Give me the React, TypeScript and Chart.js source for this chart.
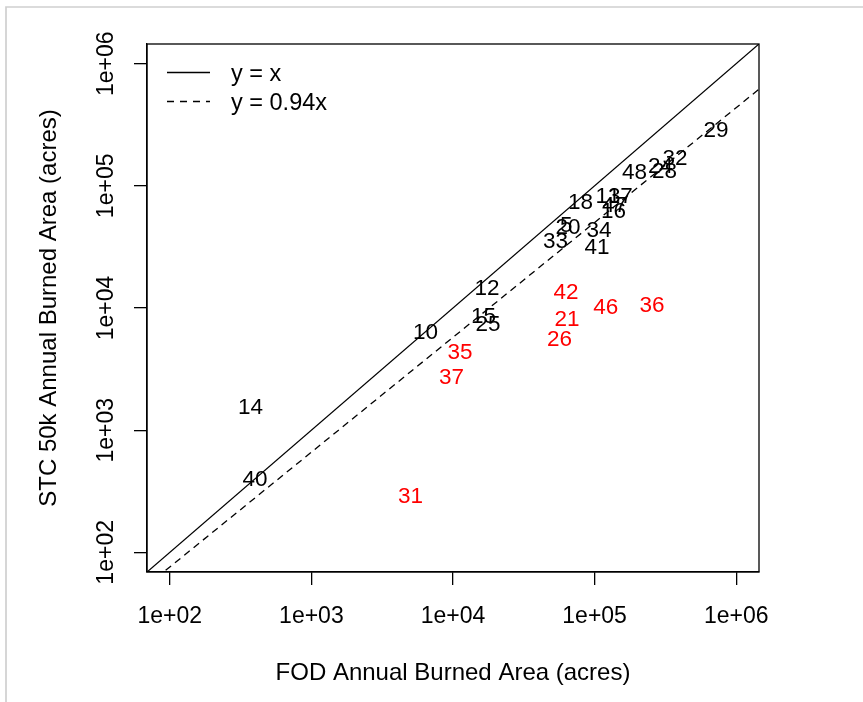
import React, { useEffect, useRef } from "react";
import { Chart, registerables } from "chart.js";

Chart.register(...registerables);

// ---- data (acres) ----
const blackLabels = ["29", "32", "48", "24", "28", "18", "13", "17", "47", "16", "33", "20", "5", "34", "41", "12", "15", "25", "10", "14", "40"];
const blackFod = [7.2e5, 3.7e5, 1.91e5, 2.92e5, 3.12e5, 7.94e4, 1.245e5, 1.52e5, 1.38e5, 1.36e5, 5.3e4, 6.49e4, 6.3e4, 1.074e5, 1.04e5, 1.74e4, 1.64e4, 1.77e4, 6.4e3, 372, 400];
const blackStc = [2.92e5, 1.73e5, 1.32e5, 1.48e5, 1.34e5, 7.45e4, 8.41e4, 8.34e4, 7.05e4, 6.3e4, 3.61e4, 4.65e4, 4.85e4, 4.44e4, 3.22e4, 1.486e4, 8.77e3, 7.54e3, 6.43e3, 1589, 405];

const redLabels = ["31", "35", "37", "42", "21", "26", "46", "36"];
const redFod = [5.01e3, 1.12e4, 9.75e3, 6.28e4, 6.38e4, 5.65e4, 1.2e5, 2.54e5];
const redStc = [297, 4.41e3, 2.8e3, 1.39e4, 8.28e3, 5.68e3, 1.03e4, 1.07e4];

const tickValues = [1e2, 1e3, 1e4, 1e5, 1e6];
const tickLabels = ["1e+02", "1e+03", "1e+04", "1e+05", "1e+06"];

const axisMin = Math.pow(10, 1.839);
const axisMax = Math.pow(10, 6.161);
const fitExponent = 0.94;

const legendLabels = ["y = x", "y = 0.94x"];
const xTitle = "FOD Annual Burned Area (acres)";
const yTitle = "STC 50k Annual Burned Area (acres)";

const FAMILY = "'Liberation Sans', Arial, Helvetica, sans-serif";
const LABEL_FONT = "22.5px " + FAMILY;
const TICK_FONT = "23px " + FAMILY;
const TITLE_FONT = "24px " + FAMILY;
const LEGEND_FONT = "23.5px " + FAMILY;
const CAP = 8; // half cap-height for visual centering

const rPlotPlugin = {
  id: "rplot",
  beforeDraw(chart: any) {
    const ctx = chart.ctx;
    ctx.save();
    ctx.fillStyle = "#ffffff";
    ctx.fillRect(0, 0, chart.width, chart.height);
    ctx.strokeStyle = "#cfcfcf";
    ctx.lineWidth = 1.7;
    ctx.beginPath();
    ctx.moveTo(6, chart.height);
    ctx.lineTo(6, 7);
    ctx.lineTo(chart.width, 7);
    ctx.stroke();
    ctx.restore();
  },
  afterDraw(chart: any) {
    const ctx = chart.ctx;
    const area = chart.chartArea;
    const xs = chart.scales.x;
    const ys = chart.scales.y;
    ctx.save();
    // box
    ctx.strokeStyle = "#000";
    ctx.lineWidth = 1.3;
    ctx.strokeRect(area.left, area.top, area.right - area.left, area.bottom - area.top);

    ctx.fillStyle = "#000";
    ctx.textAlign = "center";
    ctx.textBaseline = "alphabetic";
    ctx.font = TICK_FONT;
    // x tick labels
    tickValues.forEach((v, i) => {
      const px = xs.getPixelForValue(v);
      ctx.fillText(tickLabels[i], px, 623);
    });
    // y tick labels (rotated)
    tickValues.forEach((v, i) => {
      const py = ys.getPixelForValue(v);
      ctx.save();
      ctx.translate(113, py);
      ctx.rotate(-Math.PI / 2);
      ctx.fillText(tickLabels[i], 0, 0);
      ctx.restore();
    });
    // titles
    ctx.font = TITLE_FONT;
    ctx.fillText(xTitle, (area.left + area.right) / 2, 680);
    ctx.save();
    ctx.translate(56, (area.top + area.bottom) / 2);
    ctx.rotate(-Math.PI / 2);
    ctx.fillText(yTitle, 0, 0);
    ctx.restore();

    // legend
    ctx.font = LEGEND_FONT;
    ctx.lineWidth = 1.3;
    ctx.strokeStyle = "#000";
    const rows = [72.5, 101.5];
    rows.forEach((ry, i) => {
      ctx.setLineDash(i === 0 ? [] : [7, 6]);
      ctx.beginPath();
      ctx.moveTo(167, ry);
      ctx.lineTo(210, ry);
      ctx.stroke();
      ctx.setLineDash([]);
      ctx.textAlign = "left";
      ctx.fillText(legendLabels[i], 231, ry + CAP);
    });
    ctx.restore();
  },
  afterDatasetsDraw(chart: any) {
    const ctx = chart.ctx;
    ctx.save();
    ctx.font = LABEL_FONT;
    ctx.textAlign = "center";
    ctx.textBaseline = "alphabetic";
    chart.data.datasets.forEach((ds: any, di: number) => {
      if (!ds.pointLabels) return;
      const meta = chart.getDatasetMeta(di);
      ctx.fillStyle = ds.labelColor;
      meta.data.forEach((el: any, i: number) => {
        ctx.fillText(ds.pointLabels[i], el.x, el.y + CAP);
      });
    });
    ctx.restore();
  },
};

const logAxis = (axisId: string) => ({
  type: "logarithmic" as const,
  min: axisMin,
  max: axisMax,
  afterBuildTicks: (scale: any) => {
    scale.ticks = tickValues.map((v) => ({ value: v }));
  },
  afterFit: (scale: any) => {
    if (axisId === "y") scale.width = 147;
    else scale.height = 130;
  },
  ticks: { display: false, autoSkip: false },
  grid: {
    drawOnChartArea: false,
    drawTicks: true,
    tickLength: 13,
    color: "#000",
    lineWidth: 1.3,
  },
  border: { display: true, color: "#000", width: 1.3 },
  title: { display: false },
});

export default function App() {
  const canvasRef = useRef<HTMLCanvasElement | null>(null);

  useEffect(() => {
    if (!canvasRef.current) return;
    const chart = new Chart(canvasRef.current, {
      type: "scatter",
      data: {
        datasets: [
          {
            label: "y = x",
            type: "line",
            data: [
              { x: axisMin, y: axisMin },
              { x: axisMax, y: axisMax },
            ],
            borderColor: "#000",
            borderWidth: 1.3,
            pointRadius: 0,
            fill: false,
            clip: 0,
          } as any,
          {
            label: "y = 0.94x",
            type: "line",
            data: [
              { x: axisMin, y: Math.pow(axisMin, fitExponent) },
              { x: axisMax, y: Math.pow(axisMax, fitExponent) },
            ],
            borderColor: "#000",
            borderWidth: 1.3,
            borderDash: [7, 5],
            pointRadius: 0,
            fill: false,
            clip: 0,
          } as any,
          {
            label: "black",
            data: blackFod.map((x, i) => ({ x, y: blackStc[i] })),
            pointRadius: 0,
            pointHoverRadius: 0,
            pointLabels: blackLabels,
            labelColor: "#000000",
          } as any,
          {
            label: "red",
            data: redFod.map((x, i) => ({ x, y: redStc[i] })),
            pointRadius: 0,
            pointHoverRadius: 0,
            pointLabels: redLabels,
            labelColor: "#ff0000",
          } as any,
        ],
      },
      options: {
        responsive: false,
        maintainAspectRatio: false,
        animation: false,
        devicePixelRatio: 1,
        layout: { padding: { left: 0, top: 44, right: 104, bottom: 0 } },
        plugins: { legend: { display: false }, tooltip: { enabled: false } },
        events: [],
        scales: {
          x: { ...logAxis("x"), position: "bottom" },
          y: { ...logAxis("y"), position: "left" },
        },
      } as any,
      plugins: [rPlotPlugin],
    });
    return () => chart.destroy();
  }, []);

  return (
    <div style={{ position: "fixed", left: 0, top: 0, width: 863, height: 702, background: "#fff" }}>
      <canvas ref={canvasRef} width={863} height={702} style={{ display: "block", width: 863, height: 702 }} />
    </div>
  );
}
